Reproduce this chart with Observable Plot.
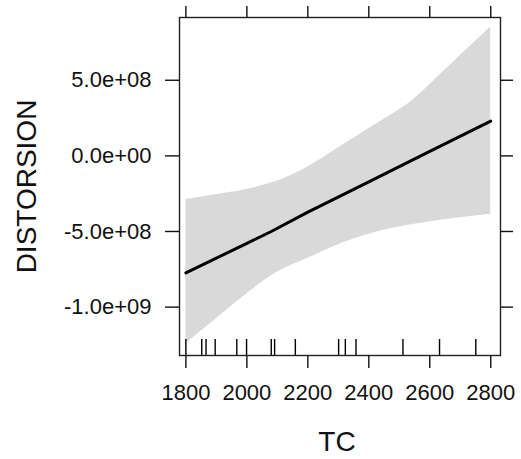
<!DOCTYPE html>
<html><head><meta charset="utf-8">
<script src="https://cdn.jsdelivr.net/npm/d3@7"></script>
<script src="https://cdn.jsdelivr.net/npm/@observablehq/plot@0.6"></script>
<style>body{margin:0;background:#fff}</style>
</head><body><div id="chart"></div>
<script>
// Confidence band (TC, lower, upper)
const bandTC    = [1800, 1895, 1990, 2095, 2200, 2310, 2420, 2545, 2655, 2800];
const bandLower = [-1242e6, -1085e6, -928e6, -775e6, -677e6, -579e6, -506e6, -453e6, -421e6, -386e6];
const bandUpper = [-289e6, -257e6, -225e6, -170e6, -73e6, 65e6, 205e6, 370e6, 578e6, 853e6];
// Fitted effect line
const lineTC  = [1800, 2000, 2080, 2200, 2400, 2600, 2800];
const lineFit = [-774e6, -578e6, -500e6, -372e6, -172e6, 30e6, 230e6];
// Rug (observed TC values)
const rugTC = [1800, 1852, 1866, 1896, 1967, 1999, 2080, 2091, 2159, 2301, 2323, 2358, 2512, 2632, 2751];
// Ticks
const xTicks = [1800, 2000, 2200, 2400, 2600, 2800];
const yTicks = [-1e9, -5e8, 0, 5e8];
const yTickLabels = ["-1.0e+09", "-5.0e+08", "0.0e+00", "5.0e+08"];

const band = bandTC.map((x, i) => ({x, lo: bandLower[i], hi: bandUpper[i]}));
const fit = lineTC.map((x, i) => ({x, y: lineFit[i]}));

const plot = Plot.plot({
  width: 521, height: 459,
  marginLeft: 179, marginRight: 21, marginTop: 17, marginBottom: 104,
  style: {fontFamily: "'Liberation Sans', Arial, sans-serif", fontSize: "22px", color: "#111", background: "white"},
  x: {domain: [1779, 2832]},
  y: {domain: [-1.32e9, 0.915e9]},
  marks: [
    Plot.areaY(band, {x: "x", y1: "lo", y2: "hi", fill: "#d9d9d9", curve: "monotone-x"}),
    Plot.line(fit, {x: "x", y: "y", stroke: "black", strokeWidth: 3}),
    Plot.ruleX(rugTC, {x: d => d, insetTop: 322, stroke: "black", strokeWidth: 1.4}),
    Plot.frame({stroke: "#222", strokeWidth: 1.4}),
    Plot.axisX({anchor: "bottom", ticks: xTicks, tickSize: 13, tickPadding: 16, tickFormat: d => String(d), label: null, strokeWidth: 1.4, fontSize: 22}),
    Plot.axisX({anchor: "top", ticks: xTicks, tickSize: 12, tickFormat: () => "", label: null, strokeWidth: 1.4}),
    Plot.axisY({anchor: "left", ticks: yTicks, tickSize: 14, tickPadding: 14, tickFormat: d => yTickLabels[yTicks.indexOf(d)], label: null, strokeWidth: 1.4, fontSize: 22}),
    Plot.axisY({anchor: "right", ticks: yTicks, tickSize: 12, tickFormat: () => "", label: null, strokeWidth: 1.4}),
    Plot.text(["TC"], {text: d => d, frameAnchor: "bottom", dy: 95, dx: -3, lineAnchor: "bottom", fontSize: 28, fill: "#111"}),
    Plot.text(["DISTORSION"], {text: d => d, frameAnchor: "left", dx: -152, rotate: -90, textAnchor: "middle", lineAnchor: "middle", fontSize: 28, fill: "#111"})
  ]
});
document.getElementById("chart").append(plot);
</script>
</body></html>
